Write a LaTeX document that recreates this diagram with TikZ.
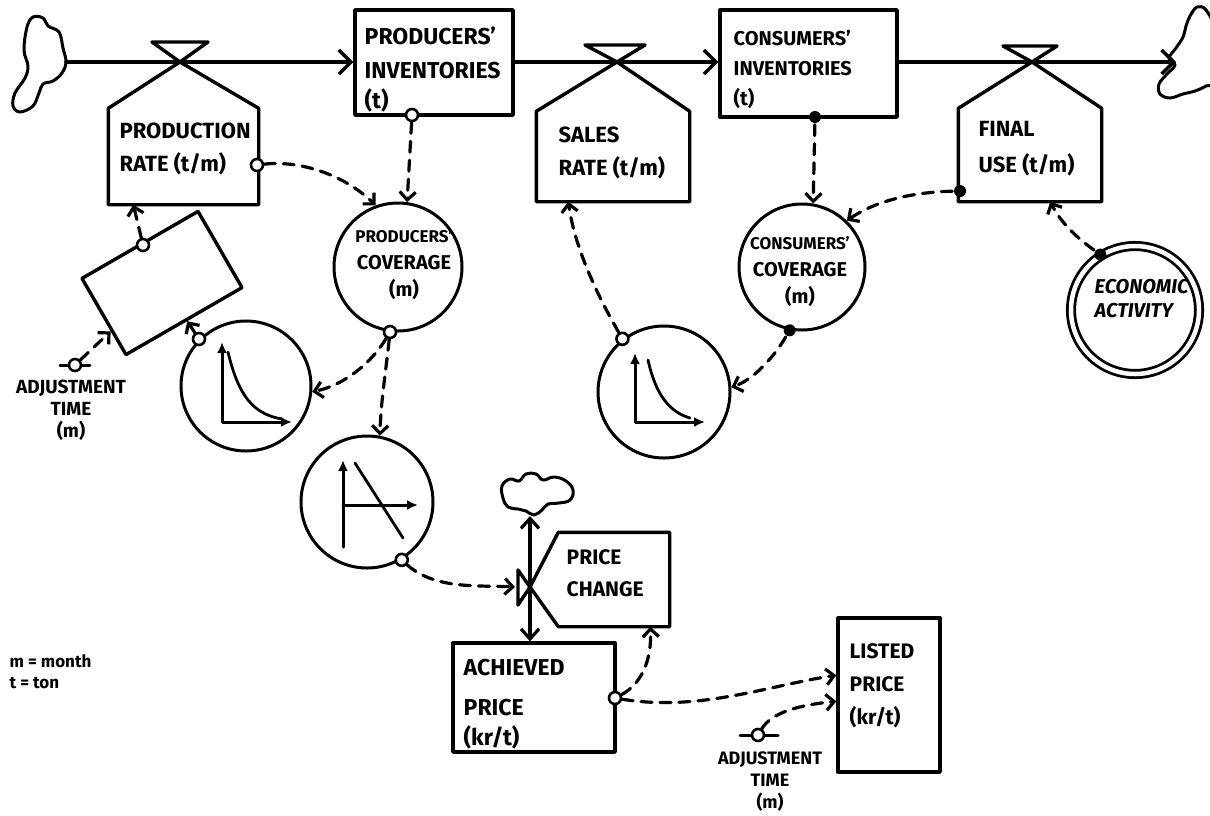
\documentclass[tikz,border=0pt]{standalone}
\usepackage{fontspec}
\setmainfont{Fira Sans}
\usetikzlibrary{arrows.meta,calc}
\newcommand{\fsz}[2]{\fontsize{#1}{#2}\selectfont}
\begin{document}
\begin{tikzpicture}[x=1pt,y=-1pt,
  line width=3.4pt, line join=round, line cap=round,
  box/.style={draw, rectangle, inner sep=0pt, line width=3.4pt},
  ghost/.style={rectangle, inner sep=0pt},
  aux/.style={circle, draw, line width=3pt, inner sep=0pt},
  odot/.style={circle, draw, fill=white, line width=2.6pt, inner sep=0pt, minimum size=12pt},
  fdot/.style={circle, fill=black, inner sep=0pt, minimum size=12pt},
  txt/.style={inner sep=0pt, align=left, anchor=north west},
  ctxt/.style={inner sep=0pt, align=center, anchor=north},
  fz/.style 2 args={font=\bfseries\fsz{#1}{#2}},
  flow/.style={line width=3.4pt, -{Straight Barb[length=12pt,width=24pt]}},
  flowboth/.style={line width=3.2pt, {Straight Barb[length=10pt,width=18pt]}-{Straight Barb[length=10pt,width=18pt]}},
  dep/.style={line width=3.2pt, dash pattern=on 11pt off 8pt, -{Straight Barb[length=8pt,width=16pt]}},
  gax/.style={line width=3pt, {Latex[length=11pt,width=10pt]}-{Latex[length=11pt,width=10pt]}},
  gax1/.style={line width=3pt, -{Latex[length=11pt,width=10pt]}},
  cloud/.style={line width=3pt},
]
\useasboundingbox (0,0) rectangle (1210,815);

% ---------- stocks and other boxes ----------
\node[box, minimum width=158pt, minimum height=105pt] (pi) at (434,62.5) {};
\node[box, minimum width=177pt, minimum height=107pt] (ci) at (808.5,63.5) {};
\node[ghost, minimum width=147pt, minimum height=93pt] (pr) at (183.5,156.5) {};
\node[ghost, minimum width=150pt, minimum height=87pt] (sr) at (613,156.5) {};
\node[ghost, minimum width=140pt, minimum height=90pt] (fu) at (1030,155) {};
\node[ghost, minimum width=108pt, minimum height=91pt] (pch) at (614,579.5) {};
\node[box, minimum width=162pt, minimum height=109pt] (ap) at (534,697.5) {};
\node[box, minimum width=102pt, minimum height=154pt] (lp) at (889,695) {};
\node[box, minimum width=134pt, minimum height=88pt, rotate=30] (dl) at (162,283) {};

% ---------- auxiliaries ----------
\node[aux, minimum size=128pt] (pc) at (398,267) {};
\node[aux, minimum size=126pt] (cc) at (802,267) {};
\node[aux, minimum size=130pt] (t1) at (246,386) {};
\node[aux, minimum size=132pt] (t2) at (367,502) {};
\node[aux, minimum size=132pt] (t3) at (664,392) {};
\node[circle, draw, double=white, double distance=4.5pt, line width=2.8pt, minimum size=128pt] (ea) at (1135,310) {};

% ---------- valves and rate houses ----------
\coordinate (vpr) at (180,62);
\coordinate (vsr) at (617,62);
\coordinate (vfu) at (1032,62);
\coordinate (vpc) at (530,587);
\draw (pr.south west) -- (pr.north west) -- (vpr) -- (pr.north east) -- (pr.south east) -- cycle;
\draw (152,42) -- (208,42) -- (vpr) -- cycle;
\draw (sr.south west) -- (sr.north west) -- (vsr) -- (sr.north east) -- (sr.south east) -- cycle;
\draw (585,45) -- (645,45) -- (vsr) -- cycle;
\draw (fu.south west) -- (fu.north west) -- (vfu) -- (fu.north east) -- (fu.south east) -- cycle;
\draw (1003,46) -- (1057,46) -- (vfu) -- cycle;
\draw (pch.north west) -- (pch.north east) -- (pch.south east) -- (pch.south west) -- (vpc) -- cycle;
\draw (518,570) -- (518,605) -- (vpc) -- cycle;

% ---------- clouds ----------
\draw[cloud] plot[smooth cycle, tension=0.6] coordinates {(33,17) (43,18) (48,26) (59,32) (63,48) (66,62) (62,73) (53,81) (43,84) (39,93) (33,106) (20,112) (13,106) (15,93) (25,78) (28,66) (24,50) (27,27)};
\draw[cloud] plot[smooth cycle, tension=0.6] coordinates {(1197,7) (1206,10) (1214,30) (1214,80) (1206,86) (1195,91) (1183,94) (1170,98) (1160,94) (1159,84) (1167,74) (1175,65) (1169,58) (1176,48) (1183,37) (1186,26) (1190,16)};
\draw[cloud] plot[smooth cycle, tension=0.7] coordinates {(503,498) (502,486) (510,479) (519,481) (526,474) (536,474) (543,480) (554,477) (566,481) (573,490) (570,500) (559,503) (548,504) (542,510) (534,515) (526,511) (518,509) (508,507)};
\coordinate (cL) at (66,62);
\coordinate (cR) at (1176,62);
\coordinate (cP) at (530,516);

% ---------- flows ----------
\draw[flow] (cL) -- (cL -| pi.west);
\draw[flow] (pi.east |- cL) -- (ci.west |- cL);
\draw[flow] (ci.east |- cL) -- (cR);
\draw[flowboth] (cP) -- (cP |- ap.north);

% ---------- constants' bars ----------
\draw[line width=3pt] (60,365) -- (90,365);
\draw[line width=3pt] (740,735) -- (778,735);

% ---------- connection dots ----------
\node[odot] (prD) at (257,165) {};
\node[odot] (piD) at (412,115) {};
\node[fdot] (ciD) at (815,117) {};
\node[fdot] (fuD) at (960,191) {};
\node[odot] (dlD) at (143,245) {};
\node[odot] (t1D) at (t1.135) {};
\node[odot] (pcD) at (pc.-97) {};
\node[odot] (t2D) at (t2.-59) {};
\node[odot] (t3D) at (t3.128) {};
\node[fdot] (ccD) at (cc.-101) {};
\node[fdot] (eaD) at (ea.122) {};
\node[odot] (apD) at (615,698) {};
\node[odot] (at1D) at (75,365) {};
\node[odot] (at2D) at (758,735) {};
\coordinate (pvl) at (515,587);

% ---------- graphs inside table functions ----------
\begin{scope}[shift={(t1.center)}]
  \draw[gax] (-24,-44) -- (-24,36) -- (46,36);
  \draw[line width=2.8pt] (-18,-34) .. controls (-8,8) and (6,28) .. (36,33);
\end{scope}
\begin{scope}[shift={(t2.center)}]
  \draw[gax1] (-24,45) -- (-24,-42);
  \draw[gax1] (-24,3) -- (51,3);
  \draw[line width=2.8pt] (-12,-39) -- (36,36);
\end{scope}
\begin{scope}[shift={(t3.center)}]
  \draw[gax] (-29,-39) -- (-29,30) -- (41,30);
  \draw[line width=2.8pt] (-16,-32) .. controls (-8,4) and (6,20) .. (26,26);
\end{scope}

% ---------- information links ----------
\draw[dep] (prD) .. controls (300,160) and (345,175) .. (pc.110);
\draw[dep] (piD) -- (pc.82);
\draw[dep] (dlD) -- ($(pr.south west)+(25,0)$);
\draw[dep] (t1D) -- (dl);
\draw[dep] (at1D) -- (dl);
\draw[dep] (pcD) .. controls (372,362) and (345,385) .. (t1.-5);
\draw[dep] (pcD) .. controls (386,370) and (381,400) .. (t2.79);
\draw[dep] (t2D) .. controls (435,590) and (480,585) .. (pvl);
\draw[dep] (t3D) .. controls (600,300) and (575,250) .. ($(sr.south west)+(32,0)$);
\draw[dep] (ciD) -- (cc.80);
\draw[dep] (fuD) .. controls (920,192) and (880,198) .. (cc.46);
\draw[dep] (ccD) .. controls (772,360) and (752,380) .. (t3.4);
\draw[dep] (eaD) .. controls (1080,240) and (1062,225) .. ($(fu.south west)+(92,0)$);
\draw[dep] (apD) .. controls (640,685) and (652,662) .. ($(pch.south west)+(92,0)$);
\draw[dep] (apD) .. controls (700,712) and (770,685) .. ($(lp.north west)+(0,59)$);
\draw[dep] (at2D) .. controls (772,712) and (800,705) .. ($(lp.north west)+(0,85)$);

% ---------- labels ----------
\node[txt, fz={22}{33}] (prT) at (118,121) {PRODUCTION\\RATE (t/m)};
\node[txt, fz={23}{34}] (piT) at (363,25) {PRODUCERS'\\INVENTORIES\\[-4pt](t)};
\node[txt, fz={20}{30}] (ciT) at (732,28) {CONSUMERS'\\INVENTORIES\\(t)};
\node[txt, fz={22}{33}] (srT) at (557,125) {SALES\\RATE (t/m)};
\node[txt, fz={22}{36}] (fuT) at (977,120) {FINAL\\USE (t/m)};
\node[ctxt, fz={20}{27}] (pcT) at (404,228) {{\fsz{17}{20}PRODUCERS'}\\COVERAGE\\(m)};
\node[ctxt, fz={20}{27}] (ccT) at (800,235) {{\fsz{17}{20}CONSUMERS'}\\COVERAGE\\(m)};
\node[txt, font=\bfseries\itshape\fsz{20}{24}] (eaT) at (1093,278) {ECONOMIC\\ACTIVITY};
\node[txt, fz={21}{32}] (pchT) at (565,548) {PRICE\\CHANGE};
\node[txt, fz={23}{40}] (apT) at (462,657) {ACHIEVED\\PRICE\\[-10pt](kr/t)};
\node[txt, fz={21}{33}] (lpT) at (848,642) {LISTED\\PRICE\\(kr/t)};
\node[ctxt, fz={19}{22}] (at1T) at (71,378) {ADJUSTMENT\\TIME\\(m)};
\node[ctxt, fz={18}{22}] (at2T) at (770,750) {ADJUSTMENT\\TIME\\(m)};
\node[txt, fz={17}{21}] (leg) at (8,653) {m = month\\t = ton};
\end{tikzpicture}
\end{document}
